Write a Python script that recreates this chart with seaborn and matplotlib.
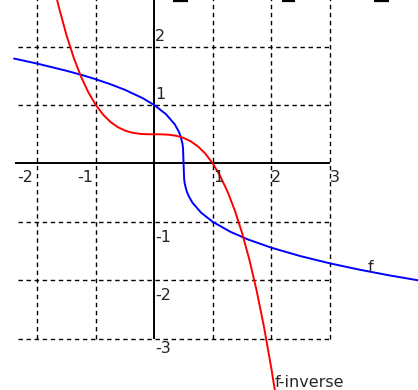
import matplotlib
matplotlib.use("Agg")
import matplotlib.pyplot as plt
import seaborn as sns
import pandas as pd

# f(x): a decreasing cube-root curve through (0, 1), vertical at x = 0.5
f_x = [-2.4, -2.0, -1.5, -1.2, -1.0, -0.75, -0.5, -0.2, 0.0, 0.2, 0.35, 0.42,
       0.45, 0.48, 0.49, 0.5, 0.51, 0.52, 0.55, 0.58, 0.65, 0.8, 1.0, 1.3,
       1.6, 2.0, 2.5, 3.0, 3.5, 4.0, 4.55]
f_y = [1.797, 1.710, 1.587, 1.504, 1.442, 1.357, 1.260, 1.119, 1.000, 0.843,
       0.669, 0.543, 0.464, 0.342, 0.271, 0.0, -0.271, -0.342, -0.464, -0.543,
       -0.669, -0.843, -1.000, -1.170, -1.301, -1.442, -1.587, -1.710, -1.817,
       -1.913, -2.008]

# f-inverse(x): the reflection of f across y = x
finv_x = [-1.67, -1.625, -1.5, -1.375, -1.25, -1.125, -1.0, -0.875, -0.75,
          -0.625, -0.5, -0.375, -0.25, -0.125, 0.0, 0.125, 0.25, 0.375, 0.5,
          0.625, 0.75, 0.875, 1.0, 1.125, 1.25, 1.375, 1.5, 1.625, 1.75,
          1.875, 2.0, 2.08]
finv_y = [2.829, 2.646, 2.188, 1.800, 1.477, 1.212, 1.000, 0.835, 0.711,
          0.622, 0.563, 0.526, 0.508, 0.501, 0.500, 0.499, 0.492, 0.474,
          0.438, 0.378, 0.289, 0.165, 0.000, -0.212, -0.477, -0.800, -1.188,
          -1.646, -2.180, -2.796, -3.500, -4.000]

# grid positions and the numbers written beside the axes
x_grid = [-2, -1, 1, 2, 3]
y_grid = [2, 1, -1, -2, -3]
x_labels = ["-2", "-1", "1", "2", "3"]
y_labels = ["2", "1", "-1", "-2", "-3"]

sns.set_style("white")
plt.rcParams["font.family"] = ["DejaVu Sans"]
plt.rcParams["lines.scale_dashes"] = False

fig = plt.figure(figsize=(4.18, 3.90), dpi=100)
ax = fig.add_axes([0, 0, 1, 1])

dash = (0, (3.2, 2.6))
grid_left, grid_right = -2.33, 3.0
grid_bottom, grid_top = -3.0, 2.9
ax.vlines(x_grid, grid_bottom, grid_top, colors="black", linewidth=1.0,
          linestyles=[dash], zorder=1)
ax.hlines(y_grid, grid_left, grid_right, colors="black", linewidth=1.0,
          linestyles=[dash], zorder=1)

# axes lines
ax.hlines(0, -2.38, 3.0, colors="black", linewidth=1.4, zorder=2)
ax.vlines(0, -3.0, 2.9, colors="black", linewidth=1.4, zorder=2)

df_f = pd.DataFrame({"x": f_x, "y": f_y})
df_inv = pd.DataFrame({"x": finv_x, "y": finv_y})
sns.lineplot(data=df_f, x="x", y="y", sort=False, color="#0000ff",
             linewidth=1.4, ax=ax, zorder=3)
sns.lineplot(data=df_inv, x="x", y="y", sort=False, color="#ff0000",
             linewidth=1.4, ax=ax, zorder=3)
ax.set_xlim(-2.64, 4.51)
ax.set_ylim(-3.88, 2.80)
ax.set_axis_off()

fs = 11.5
x_label_left = [-2.35, -1.32, 1.0, 1.99, 3.0]
for xv, lab in zip(x_label_left, x_labels):
    ax.text(xv, -0.32, lab, ha="left", va="baseline", fontsize=fs)

y_label_base = [2.094, 1.101, -1.348, -2.34, -3.24]
for yv, lab in zip(y_label_base, y_labels):
    ax.text(0.015, yv, lab, ha="left", va="baseline", fontsize=fs)

ax.text(3.64, -1.866, "f", ha="left", va="baseline", fontsize=fs)
ax.text(2.066, -3.825, "f-inverse", ha="left", va="baseline", fontsize=fs)

# short rules along the top edge, left over from the heading band above
rule_starts = [0.32, 2.18, 3.76]
rule_ends = [0.57, 2.40, 4.01]
ax.hlines([2.785] * 3, rule_starts, rule_ends, colors="black",
          linewidth=1.6, zorder=4)

fig.savefig("out.png", dpi=100)
